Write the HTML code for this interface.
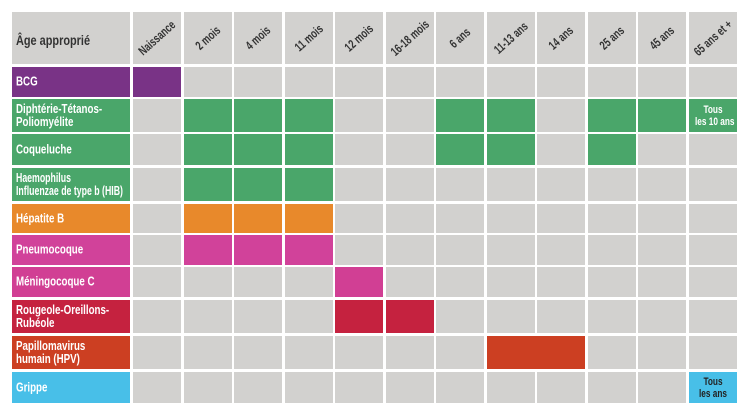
<!DOCTYPE html>
<html><head><meta charset="utf-8"><style>
body{margin:0;width:750px;height:415px;background:#fff;position:relative;overflow:hidden;font-family:"Liberation Sans Narrow","Liberation Sans",sans-serif;}
.c{position:absolute;box-sizing:border-box;}
.t{position:absolute;font-weight:bold;white-space:nowrap;transform-origin:0 50%;}
.h{position:absolute;left:50%;top:50%;font-weight:bold;white-space:nowrap;font-size:12.5px;color:#333;transform:translate(-50%,-50%) rotate(-42deg) scaleX(0.72);}
</style></head><body>
<div id="chart"></div>
<script>
const ages=["Naissance","2 mois","4 mois","11 mois","12 mois","16-18 mois","6 ans","11-13 ans","14 ans","25 ans","45 ans","65 ans et +"];
const vaccines=["BCG","Diphtérie-Tétanos-\nPoliomyélite","Coqueluche","Haemophilus\nInfluenzae de type b (HIB)","Hépatite B","Pneumocoque","Méningocoque C","Rougeole-Oreillons-\nRubéole","Papillomavirus\nhumain (HPV)","Grippe"];
const colors=["#793386","#4aa66a","#4aa66a","#4aa66a","#e8892b","#d1429a","#d13f94","#c5223f","#cc3f22","#48bfe8"];
const doses=[[0],[1,2,3,6,7,9,10,11],[1,2,3,6,7,9],[1,2,3],[1,2,3],[1,2,3],[4],[4,5],[7,8],[11]];
const notes={"1-11":"Tous\nles 10 ans","9-11":"Tous\nles ans"};
const rowTop=[67,99,134,168,204,235,267,300,336,372];
const rowH=[30,33,31,33,29,30,30,33,33,31];
const root=document.getElementById('chart');
const colX=i=>133+i*50.5;
function add(x,y,w,h,bg){const d=document.createElement('div');d.className='c';d.style.cssText=`left:${x}px;top:${y}px;width:${w}px;height:${h}px;background:${bg}`;root.appendChild(d);return d;}
let h=add(12,12,118,52,'#d2d1cf');


h.innerHTML='<div class="t" style="left:4px;top:28px;font-size:14px;color:#333;transform:translateY(-50%) scaleX(0.78)">Âge approprié</div>';
ages.forEach((a,i)=>{const d=add(colX(i),12,48,52,'#d2d1cf');


d.innerHTML=`<div class="h">${a}</div>`;});
vaccines.forEach((v,r)=>{
 const y=rowTop[r],hh=rowH[r];
 const l=add(12,y,118,hh,colors[r]);
 
 
 l.innerHTML=`<div class="t" style="left:4px;top:${hh/2}px;font-size:12.5px;line-height:13px;color:#fff;transform:translateY(-50%) scaleX(${r===3?0.7:0.78});white-space:pre">${v}</div>`;
 let i=0;
 while(i<ages.length){
  const on=doses[r].includes(i);
  let j=i;
  if(on&&r===8){while(doses[r].includes(j+1))j++;}
  const x=colX(i),w=colX(j)+48-x;
  const d=add(x,y,w,hh,on?colors[r]:'#d2d1cf');
  
  
  const n=notes[r+'-'+i];
  if(on&&n){d.innerHTML=`<div style="position:absolute;left:0;right:0;top:50%;transform:translateY(-50%) scaleX(0.75);text-align:center;font-weight:bold;font-size:11px;line-height:12px;color:${r===9?'#222':'#fff'};white-space:pre">${n}</div>`;}
  i=j+1;
 }
});
</script>
</body></html>
